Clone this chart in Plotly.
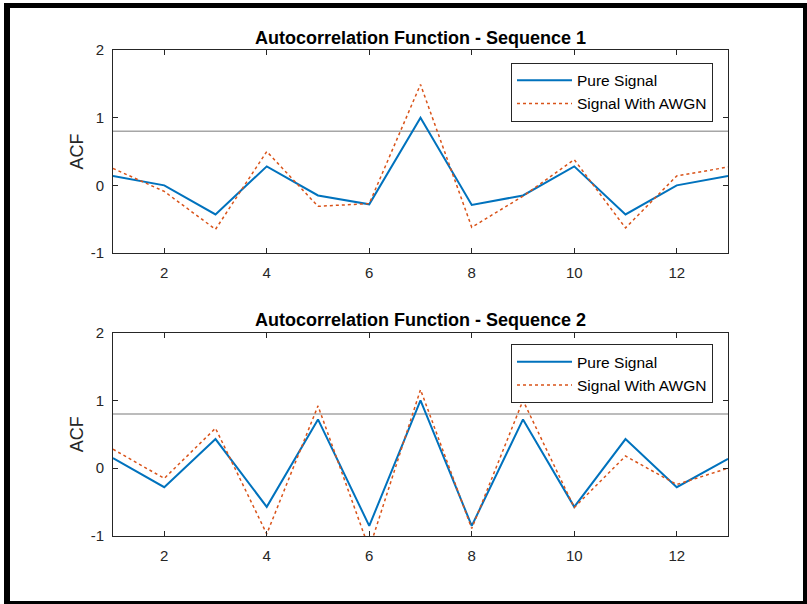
import plotly.graph_objects as go
from plotly.subplots import make_subplots

lags = list(range(1, 14))
seq1_pure = [0.14, 0.0, -0.43, 0.28, -0.15, -0.28, 1.0, -0.29, -0.15, 0.28, -0.43, 0.0, 0.14]
seq1_awgn = [0.25, -0.09, -0.65, 0.50, -0.31, -0.27, 1.49, -0.62, -0.16, 0.38, -0.63, 0.14, 0.27]
seq2_pure = [0.15, -0.28, 0.43, -0.57, 0.72, -0.85, 1.0, -0.85, 0.72, -0.57, 0.43, -0.28, 0.14]
seq2_awgn = [0.28, -0.15, 0.59, -0.97, 0.92, -1.19, 1.16, -0.89, 1.0, -0.58, 0.18, -0.24, 0.0]
threshold = 0.8
titles = ["Autocorrelation Function - Sequence 1", "Autocorrelation Function - Sequence 2"]
series_names = ["Pure Signal", "Signal With AWGN"]
x_ticks = [2, 4, 6, 8, 10, 12]
y_ticks = [-1, 0, 1, 2]
y_tick_labels = ["-1", "0", "1", "2"]

W, H = 807, 604
L, R, T, B = 113, 79, 50, 68
pw, ph = W - L - R, H - T - B

def px(x):
    return (x - L) / pw

def py(y):
    return (H - B - y) / ph

fig = make_subplots(rows=2, cols=1)
fig.update_layout(
    yaxis=dict(domain=[py(253), 1.0]),
    yaxis2=dict(domain=[0.0, py(332.7)]),
)

blue = "#0072BD"
orange = "#D95319"
axcol = "#262626"
font = "Liberation Sans, Arial, sans-serif"

data = [(seq1_pure, seq1_awgn), (seq2_pure, seq2_awgn)]
for i, (p, n) in enumerate(data):
    row = i + 1
    leg = "legend" if i == 0 else "legend2"
    fig.add_trace(go.Scatter(x=lags, y=p, mode="lines", name=series_names[0],
                             line=dict(color=blue, width=2), legend=leg), row=row, col=1)
    fig.add_trace(go.Scatter(x=lags, y=n, mode="lines", name=series_names[1],
                             line=dict(color=orange, width=1.5, dash="dot"), legend=leg), row=row, col=1)
    fig.add_shape(type="line", xref="x" if i == 0 else "x2", yref="y" if i == 0 else "y2",
                  x0=lags[0], x1=lags[-1], y0=threshold, y1=threshold,
                  line=dict(color="#a6a6a6", width=1.5), layer="below")

axis_common = dict(showgrid=False, zeroline=False, showline=True, linecolor=axcol, linewidth=1,
                   mirror="ticks", ticks="inside", ticklen=5, tickcolor=axcol, tickwidth=1,
                   tickfont=dict(family=font, size=15, color=axcol))
for r in (1, 2):
    fig.update_xaxes(range=[1, 13], tickvals=x_ticks, ticklabelstandoff=6,
                     **axis_common, row=r, col=1)
    fig.update_yaxes(range=[-1, 2], tickvals=y_ticks, ticktext=y_tick_labels, ticklabelstandoff=5,
                     title=dict(text="ACF", font=dict(family=font, size=18, color=axcol), standoff=2),
                     **axis_common, row=r, col=1)

ann = []
ann.append(dict(text="<b>" + titles[0] + "</b>", x=0.5, y=py(38), xref="paper", yref="paper",
                showarrow=False, font=dict(family=font, size=18, color="#000000"), yanchor="middle"))
ann.append(dict(text="<b>" + titles[1] + "</b>", x=0.5, y=py(320), xref="paper", yref="paper",
                showarrow=False, font=dict(family=font, size=18, color="#000000"), yanchor="middle"))

legend_style = dict(bgcolor="white", bordercolor=axcol, borderwidth=1,
                    font=dict(family=font, size=15.5, color="#000000"),
                    xanchor="right", yanchor="top", itemwidth=55, tracegroupgap=0)

# black frame around the picture
frame = [
    (4, 3, 10, 604), (4, 3, 807, 8), (803, 3, 807, 604), (4, 601, 807, 604)
]
shapes = []
for x0, y0, x1, y1 in frame:
    shapes.append(dict(type="rect", xref="paper", yref="paper", x0=px(x0), x1=px(x1),
                       y0=py(y0), y1=py(y1), fillcolor="black", line=dict(width=0)))

fig.update_layout(
    width=W, height=H, margin=dict(l=L, r=R, t=T, b=B),
    paper_bgcolor="white", plot_bgcolor="white",
    annotations=ann,
    legend=dict(x=px(713), y=py(62.7), **legend_style),
    legend2=dict(x=px(713), y=py(344.3), **legend_style),
    showlegend=True,
)
for s in shapes:
    fig.add_shape(**s)

fig.write_html("out.html")
